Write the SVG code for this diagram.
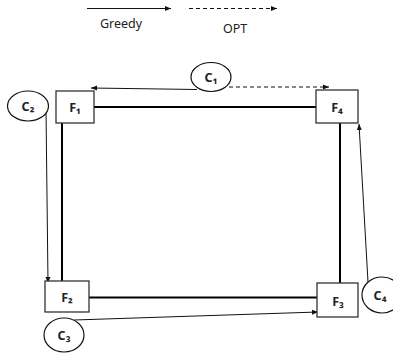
<svg xmlns="http://www.w3.org/2000/svg" width="393" height="356" viewBox="0 0 393 356">
<style>
.box{fill:#fff;stroke:#333;stroke-width:1.3}
.ell{fill:#fff;stroke:#111;stroke-width:1.2}
.edge{stroke:#000;stroke-width:2;fill:none}
.arr{stroke:#111;stroke-width:1;fill:none}
.dash{stroke:#111;stroke-width:1;fill:none;stroke-dasharray:4,3}
text{font-family:"Noto Sans","Liberation Sans",sans-serif;font-size:12.5px;fill:#222}
.lbl{text-anchor:middle;font-weight:bold;font-size:12.5px}
</style>
<defs>
<marker id="ah" viewBox="0 0 6 6" refX="6" refY="3" markerWidth="6" markerHeight="6" markerUnits="userSpaceOnUse" orient="auto">
<path d="M0,0.5 L6,3 L0,5.5 Z" fill="#111"/>
</marker>
</defs>
<g id="legend">
<line class="arr" x1="87" y1="8.5" x2="171" y2="8.5" marker-end="url(#ah)"/>
<line class="dash" x1="189" y1="8.5" x2="277" y2="8.5" marker-end="url(#ah)"/>
<text x="100" y="28">Greedy</text>
<text x="223" y="33">OPT</text>
</g>
<g id="edges">
<line class="edge" x1="94" y1="107" x2="316" y2="107"/>
<line class="edge" x1="62" y1="123" x2="62" y2="281"/>
<line class="edge" x1="89" y1="297.5" x2="317" y2="297.5"/>
<line class="edge" x1="340" y1="123" x2="340" y2="283"/>
</g>
<g id="connectors">
<line class="arr" x1="197" y1="89.5" x2="91" y2="88" marker-end="url(#ah)"/>
<line class="dash" x1="229" y1="87" x2="329" y2="87" marker-end="url(#ah)"/>
<line class="arr" x1="46" y1="110" x2="48" y2="283" marker-end="url(#ah)"/>
<line class="arr" x1="74" y1="320" x2="318" y2="312" marker-end="url(#ah)"/>
<line class="arr" x1="368" y1="282" x2="359" y2="124" marker-end="url(#ah)"/>
</g>
<g id="F1"><rect class="box" x="56" y="91" width="38" height="32"/><text class="lbl" x="75" y="112">F₁</text></g>
<g id="F4"><rect class="box" x="316" y="90" width="42" height="33"/><text class="lbl" x="337" y="112">F₄</text></g>
<g id="F2"><rect class="box" x="45" y="281" width="44" height="31"/><text class="lbl" x="67" y="302">F₂</text></g>
<g id="F3"><rect class="box" x="317" y="283" width="41" height="34"/><text class="lbl" x="338" y="306">F₃</text></g>
<g id="C1"><ellipse class="ell" cx="211" cy="77" rx="20" ry="14.5"/><text class="lbl" x="211" y="82">C₁</text></g>
<g id="C2"><ellipse class="ell" cx="28" cy="106" rx="20.5" ry="15"/><text class="lbl" x="28" y="111">C₂</text></g>
<g id="C3"><ellipse class="ell" cx="64" cy="335" rx="20" ry="17"/><text class="lbl" x="64" y="340">C₃</text></g>
<g id="C4"><ellipse class="ell" cx="382" cy="295" rx="20" ry="18"/><text class="lbl" x="380" y="300">C₄</text></g>
</svg>
